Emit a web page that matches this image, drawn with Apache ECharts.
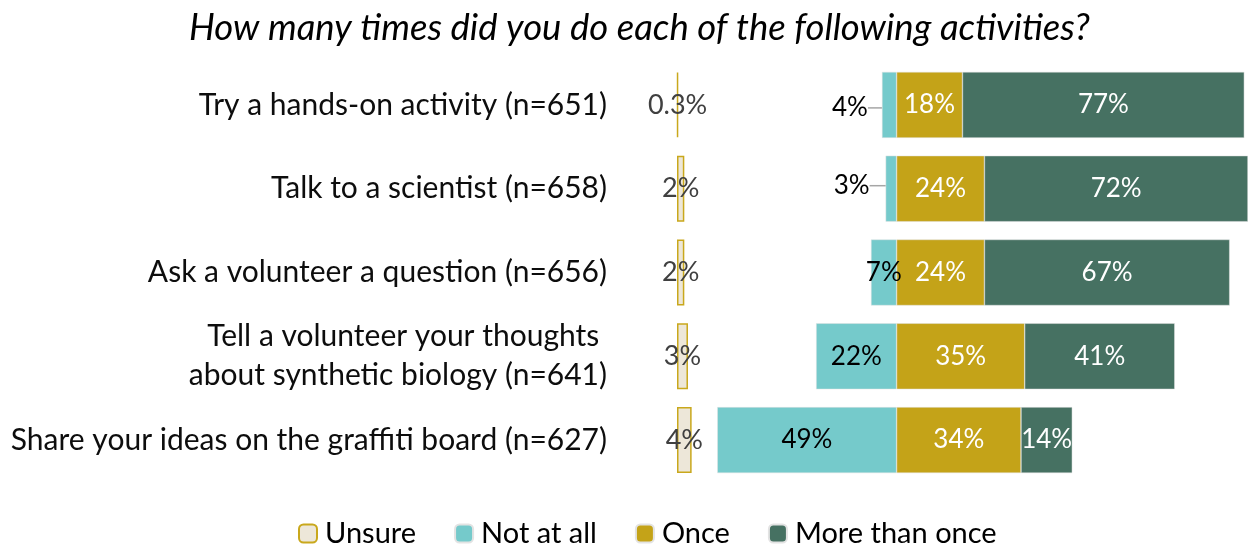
<!DOCTYPE html>
<html>
<head>
<meta charset="utf-8">
<script src="https://cdn.jsdelivr.net/npm/echarts@6/dist/echarts.min.js"></script>
<style>
  html, body { margin: 0; padding: 0; background: #fff; }
  #chart { width: 1248px; height: 547px; }
</style>
</head>
<body>
<div id="chart"></div>
<script>
// data (percent)
var activities = [
  'Try a hands-on activity (n=651)',
  'Talk to a scientist (n=658)',
  'Ask a volunteer a question (n=656)',
  'Tell a volunteer your thoughts \nabout synthetic biology (n=641)',
  'Share your ideas on the graffiti board (n=627)'
];
var unsure = [0.3, 2, 2, 3, 4];
var notAtAll = [4, 3, 7, 22, 49];
var once = [18, 24, 24, 35, 34];
var moreThanOnce = [77, 72, 67, 41, 14];

var FONT = 'Lato';
var myChart = echarts.init(document.getElementById('chart'));

// Unsure 单独画在左边第二个网格里，两个网格位置一样
var gridBox = { left: 677, width: 585.6, top: 63, height: 419, outerBoundsMode: 'none', containLabel: false };

function pct(p) {
  return Math.abs(p.value) + '%';
}

var notAtAllData = notAtAll.map(function (v, i) {
  var item = { value: -v };
  if (i < 2) {
    item.label = { position: 'left', distance: 6, color: '#000' };
    item.labelLine = { show: true, lineStyle: { color: '#a6a6a6', width: 1.5 } };
  }
  return item;
});

var option = {
  textStyle: { fontFamily: FONT },
  title: {
    text: 'How many times did you do each of the following activities?',
    left: 184,
    top: 5,
    textStyle: { fontFamily: FONT, fontStyle: 'italic', fontWeight: 'normal', fontSize: 36.5, color: '#000' }
  },
  legend: {
    top: 514,
    left: 293,
    itemWidth: 18,
    itemHeight: 18,
    itemGap: 38,
    textStyle: { fontFamily: FONT, fontSize: 29, color: '#000', padding: [0, 0, 0, 3] },
    data: ['Unsure', 'Not at all', 'Once', 'More than once']
  },
  grid: [
    Object.assign({}, gridBox),
    Object.assign({}, gridBox)
  ],
  xAxis: [
    { type: 'value', gridIndex: 0, min: -60, max: 100, show: false },
    { type: 'value', gridIndex: 1, min: 0, max: 160, show: false }
  ],
  yAxis: [
    {
      type: 'category', gridIndex: 0, inverse: true, data: activities,
      axisLine: { show: false }, axisTick: { show: false },
      axisLabel: { margin: 70, fontFamily: FONT, fontSize: 30, color: '#0d0d0d', lineHeight: 39, align: 'right' }
    },
    { type: 'category', gridIndex: 1, inverse: true, data: activities, show: false }
  ],
  series: [
    {
      name: 'Unsure', type: 'bar', xAxisIndex: 1, yAxisIndex: 1, barWidth: 66,
      itemStyle: { color: '#ede7d9', borderColor: '#c9a81c', borderWidth: 1.5 },
      label: { show: true, position: 'inside', formatter: pct, fontSize: 27, color: '#404040' },
      data: unsure
    },
    {
      name: 'Not at all', type: 'bar', stack: 'main', barWidth: 66,
      itemStyle: { color: '#75cacb', borderColor: '#e3e3e3', borderWidth: 0.5 },
      label: { show: true, position: 'inside', formatter: pct, fontSize: 26, color: '#000' },
      labelLayout: function (p) {
        if (p.dataIndex === 0) return { dx: -8, dy: 3 };
        if (p.dataIndex === 1) return { dx: -10, dy: -3 };
        return {};
      },
      data: notAtAllData
    },
    {
      name: 'Once', type: 'bar', stack: 'main', barWidth: 66,
      itemStyle: { color: '#c4a318', borderColor: '#e3e3e3', borderWidth: 0.5 },
      label: { show: true, position: 'inside', formatter: pct, fontSize: 26, color: '#fff' },
      data: once
    },
    {
      name: 'More than once', type: 'bar', stack: 'main', barWidth: 66,
      itemStyle: { color: '#467162', borderColor: '#e3e3e3', borderWidth: 0.5 },
      label: { show: true, position: 'inside', formatter: pct, fontSize: 26, color: '#fff' },
      data: moreThanOnce
    }
  ]
};

myChart.setOption(option);
</script>
</body>
</html>
